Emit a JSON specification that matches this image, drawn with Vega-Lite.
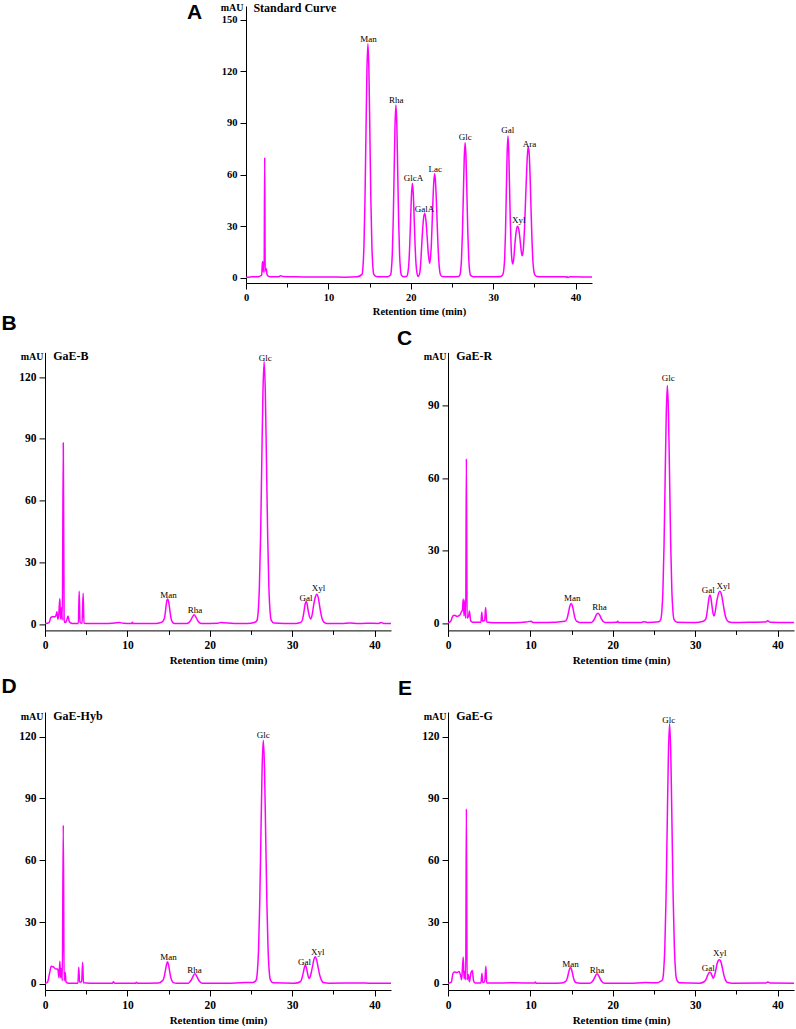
{
  "$schema": "https://vega.github.io/schema/vega-lite/v6.json",
  "background": "white",
  "padding": {"left": 1, "top": 1, "right": 0, "bottom": 0},
  "config": {
    "view": {"stroke": null},
    "axis": {
      "grid": false,
      "domainColor": "#000",
      "domainWidth": 1,
      "tickColor": "#000",
      "tickWidth": 1,
      "labelColor": "#000",
      "titleColor": "#000",
      "labelFont": "Liberation Serif",
      "labelFontWeight": "bold",
      "titleFont": "Liberation Serif",
      "titleFontWeight": "bold",
      "labelOverlap": false,
      "labelPadding": 3
    },
    "axisX": {"labelFlush": false, "titlePadding": 4},
    "title": {
      "font": "Liberation Sans",
      "fontSize": 21,
      "fontWeight": "bold",
      "anchor": "start",
      "frame": "group",
      "baseline": "alphabetic",
      "color": "#000"
    },
    "text": {"font": "Liberation Serif", "color": "#000"}
  },
  "datasets": {
    "curveA": [
      {"t": 0, "mAU": 0.3}, {"t": 0.5, "mAU": 0.5}, {"t": 1.0, "mAU": 0.6}, {"t": 1.5, "mAU": 0.7}, {"t": 1.9, "mAU": 1.5},
      {"t": 2.0, "mAU": 9.5}, {"t": 2.05, "mAU": 4}, {"t": 2.1, "mAU": 9}, {"t": 2.2, "mAU": 3}, {"t": 2.27, "mAU": 70},
      {"t": 2.33, "mAU": 4}, {"t": 2.45, "mAU": 5.5}, {"t": 2.55, "mAU": 2}, {"t": 2.7, "mAU": 1}, {"t": 3.0, "mAU": 0.6},
      {"t": 4.0, "mAU": 0.7}, {"t": 4.2, "mAU": 1.2}, {"t": 4.5, "mAU": 0.8}, {"t": 6, "mAU": 0.6}, {"t": 8, "mAU": 0.5},
      {"t": 10, "mAU": 0.5}, {"t": 12, "mAU": 0.4}, {"t": 13.5, "mAU": 0.6},
      {"t": 14.08, "mAU": 2}, {"t": 14.2, "mAU": 6.5}, {"t": 14.32, "mAU": 18.9}, {"t": 14.44, "mAU": 44.7}, {"t": 14.56, "mAU": 83.1},
      {"t": 14.68, "mAU": 120.5}, {"t": 14.8, "mAU": 136}, {"t": 14.92, "mAU": 120.5}, {"t": 15.04, "mAU": 83.1}, {"t": 15.16, "mAU": 44.7},
      {"t": 15.28, "mAU": 18.9}, {"t": 15.4, "mAU": 6.5}, {"t": 15.52, "mAU": 2}, {"t": 15.8, "mAU": 0.8}, {"t": 16.5, "mAU": 0.6},
      {"t": 17.2, "mAU": 0.7},
      {"t": 17.54, "mAU": 1.6}, {"t": 17.65, "mAU": 4.9}, {"t": 17.76, "mAU": 14}, {"t": 17.87, "mAU": 33}, {"t": 17.98, "mAU": 61},
      {"t": 18.09, "mAU": 88.7}, {"t": 18.2, "mAU": 100.5}, {"t": 18.31, "mAU": 88.7}, {"t": 18.42, "mAU": 61}, {"t": 18.53, "mAU": 33},
      {"t": 18.64, "mAU": 14}, {"t": 18.75, "mAU": 4.9}, {"t": 18.86, "mAU": 1.6}, {"t": 19.1, "mAU": 0.7}, {"t": 19.4, "mAU": 0.8},
      {"t": 19.54, "mAU": 1.1}, {"t": 19.65, "mAU": 2.9}, {"t": 19.76, "mAU": 7.9}, {"t": 19.87, "mAU": 18.4}, {"t": 19.98, "mAU": 33.9},
      {"t": 20.09, "mAU": 48.5}, {"t": 20.2, "mAU": 55}, {"t": 20.31, "mAU": 48.5}, {"t": 20.42, "mAU": 33.9}, {"t": 20.53, "mAU": 18.4},
      {"t": 20.64, "mAU": 7.9}, {"t": 20.75, "mAU": 2.9}, {"t": 20.9, "mAU": 0.8},
      {"t": 21.1, "mAU": 3}, {"t": 21.25, "mAU": 12}, {"t": 21.4, "mAU": 25}, {"t": 21.55, "mAU": 34.5}, {"t": 21.7, "mAU": 37.5},
      {"t": 21.85, "mAU": 33}, {"t": 22.0, "mAU": 23}, {"t": 22.15, "mAU": 13}, {"t": 22.3, "mAU": 8.5},
      {"t": 22.4, "mAU": 12}, {"t": 22.5, "mAU": 19.5}, {"t": 22.6, "mAU": 32.5}, {"t": 22.7, "mAU": 46}, {"t": 22.8, "mAU": 56},
      {"t": 22.9, "mAU": 60.5}, {"t": 23.0, "mAU": 56}, {"t": 23.1, "mAU": 46}, {"t": 23.2, "mAU": 32.5}, {"t": 23.3, "mAU": 19.5},
      {"t": 23.4, "mAU": 10}, {"t": 23.5, "mAU": 4.5}, {"t": 23.6, "mAU": 1.8}, {"t": 23.8, "mAU": 0.8}, {"t": 25.0, "mAU": 0.6},
      {"t": 25.8, "mAU": 0.8},
      {"t": 25.94, "mAU": 1.4}, {"t": 26.05, "mAU": 3.9}, {"t": 26.16, "mAU": 11}, {"t": 26.27, "mAU": 25.8}, {"t": 26.38, "mAU": 47.8},
      {"t": 26.49, "mAU": 69.3}, {"t": 26.6, "mAU": 78.5}, {"t": 26.71, "mAU": 69.3}, {"t": 26.82, "mAU": 47.8}, {"t": 26.93, "mAU": 25.8},
      {"t": 27.04, "mAU": 11}, {"t": 27.15, "mAU": 3.9}, {"t": 27.26, "mAU": 1.4}, {"t": 27.6, "mAU": 0.7}, {"t": 29, "mAU": 0.6},
      {"t": 30.5, "mAU": 0.6}, {"t": 31.0, "mAU": 0.9},
      {"t": 31.2, "mAU": 2.2}, {"t": 31.3, "mAU": 5}, {"t": 31.4, "mAU": 11.5}, {"t": 31.5, "mAU": 26.5}, {"t": 31.6, "mAU": 50},
      {"t": 31.7, "mAU": 72.5}, {"t": 31.8, "mAU": 82.5}, {"t": 31.9, "mAU": 73}, {"t": 32.0, "mAU": 51}, {"t": 32.1, "mAU": 30},
      {"t": 32.2, "mAU": 16}, {"t": 32.3, "mAU": 9.5}, {"t": 32.38, "mAU": 8}, {"t": 32.5, "mAU": 11}, {"t": 32.65, "mAU": 20},
      {"t": 32.8, "mAU": 27}, {"t": 32.95, "mAU": 30}, {"t": 33.1, "mAU": 28.5}, {"t": 33.25, "mAU": 23}, {"t": 33.4, "mAU": 16},
      {"t": 33.52, "mAU": 12.8}, {"t": 33.65, "mAU": 16}, {"t": 33.8, "mAU": 28}, {"t": 33.95, "mAU": 47}, {"t": 34.1, "mAU": 66},
      {"t": 34.2, "mAU": 74}, {"t": 34.28, "mAU": 76}, {"t": 34.38, "mAU": 72}, {"t": 34.5, "mAU": 57}, {"t": 34.6, "mAU": 40},
      {"t": 34.7, "mAU": 24}, {"t": 34.8, "mAU": 12}, {"t": 34.9, "mAU": 5.5}, {"t": 35.0, "mAU": 2.5}, {"t": 35.2, "mAU": 1},
      {"t": 35.6, "mAU": 0.7}, {"t": 37, "mAU": 0.6}, {"t": 38.8, "mAU": 0.6}, {"t": 38.9, "mAU": 0.2}, {"t": 39.0, "mAU": 0.7},
      {"t": 39.1, "mAU": 0.2}, {"t": 39.3, "mAU": 0.6}, {"t": 42, "mAU": 0.5}
    ],
    "curveB": [
      {"t": 0, "mAU": 0.3}, {"t": 0.5, "mAU": 0.8}, {"t": 0.7, "mAU": 3.2}, {"t": 0.9, "mAU": 3.6}, {"t": 1.2, "mAU": 3.6},
      {"t": 1.35, "mAU": 4.5}, {"t": 1.45, "mAU": 6}, {"t": 1.55, "mAU": 2.5}, {"t": 1.65, "mAU": 3.5}, {"t": 1.8, "mAU": 12.5},
      {"t": 1.9, "mAU": 2.5}, {"t": 2.0, "mAU": 8}, {"t": 2.1, "mAU": 2}, {"t": 2.22, "mAU": 88}, {"t": 2.32, "mAU": 2},
      {"t": 2.45, "mAU": 0.8}, {"t": 2.6, "mAU": 1.5}, {"t": 2.8, "mAU": 4}, {"t": 2.95, "mAU": 1.2}, {"t": 3.3, "mAU": 0.4},
      {"t": 4.05, "mAU": 0.4}, {"t": 4.15, "mAU": 16}, {"t": 4.25, "mAU": 0.8}, {"t": 4.5, "mAU": 0.5}, {"t": 4.63, "mAU": 15},
      {"t": 4.73, "mAU": 0.5}, {"t": 5.5, "mAU": 0.3}, {"t": 7, "mAU": 0.3}, {"t": 8.5, "mAU": 0.6}, {"t": 9, "mAU": 0.8},
      {"t": 9.5, "mAU": 0.5}, {"t": 10.5, "mAU": 0.4}, {"t": 10.6, "mAU": 1.0}, {"t": 10.7, "mAU": 0.3}, {"t": 12, "mAU": 0.3},
      {"t": 13.5, "mAU": 0.4}, {"t": 14.2, "mAU": 1}, {"t": 14.4, "mAU": 2}, {"t": 14.5, "mAU": 3}, {"t": 14.6, "mAU": 5.5},
      {"t": 14.7, "mAU": 9}, {"t": 14.8, "mAU": 11.5}, {"t": 14.9, "mAU": 12.2}, {"t": 15.0, "mAU": 11}, {"t": 15.1, "mAU": 8.5},
      {"t": 15.2, "mAU": 5.5}, {"t": 15.3, "mAU": 2.8}, {"t": 15.45, "mAU": 1.2}, {"t": 15.7, "mAU": 0.4}, {"t": 17.2, "mAU": 0.4},
      {"t": 17.5, "mAU": 0.9}, {"t": 17.7, "mAU": 2}, {"t": 17.9, "mAU": 3.6}, {"t": 18.1, "mAU": 4.6}, {"t": 18.3, "mAU": 3.6},
      {"t": 18.5, "mAU": 2}, {"t": 18.7, "mAU": 0.9}, {"t": 19, "mAU": 0.4}, {"t": 21, "mAU": 0.5}, {"t": 21.3, "mAU": 0.8},
      {"t": 23, "mAU": 0.4}, {"t": 24.5, "mAU": 0.4}, {"t": 25.5, "mAU": 1.0},
      {"t": 25.73, "mAU": 1.9}, {"t": 25.875, "mAU": 6}, {"t": 26.02, "mAU": 17.6}, {"t": 26.165, "mAU": 41.8}, {"t": 26.31, "mAU": 77.6},
      {"t": 26.455, "mAU": 112.5}, {"t": 26.6, "mAU": 127.5}, {"t": 26.745, "mAU": 112.5}, {"t": 26.89, "mAU": 77.6}, {"t": 27.035, "mAU": 41.8},
      {"t": 27.18, "mAU": 17.6}, {"t": 27.325, "mAU": 6}, {"t": 27.47, "mAU": 1.9}, {"t": 27.8, "mAU": 0.6}, {"t": 29, "mAU": 0.4},
      {"t": 30.5, "mAU": 0.4}, {"t": 31.1, "mAU": 1}, {"t": 31.3, "mAU": 3}, {"t": 31.45, "mAU": 6.5}, {"t": 31.58, "mAU": 9.8},
      {"t": 31.7, "mAU": 11}, {"t": 31.82, "mAU": 9.8}, {"t": 31.95, "mAU": 6.5}, {"t": 32.1, "mAU": 3.8}, {"t": 32.25, "mAU": 2.5},
      {"t": 32.45, "mAU": 5}, {"t": 32.6, "mAU": 9}, {"t": 32.8, "mAU": 13}, {"t": 33.0, "mAU": 14.6}, {"t": 33.2, "mAU": 12.3},
      {"t": 33.35, "mAU": 8.5}, {"t": 33.5, "mAU": 5}, {"t": 33.65, "mAU": 2.5}, {"t": 33.85, "mAU": 1}, {"t": 34.2, "mAU": 0.4},
      {"t": 36, "mAU": 0.3}, {"t": 37, "mAU": 0.6}, {"t": 38, "mAU": 0.3}, {"t": 39, "mAU": 0.5}, {"t": 40.5, "mAU": 0.4},
      {"t": 40.8, "mAU": 0.8}, {"t": 41.2, "mAU": 0.3}, {"t": 42, "mAU": 0.3}
    ],
    "curveC": [
      {"t": 0, "mAU": 0.2}, {"t": 0.3, "mAU": 0.6}, {"t": 0.6, "mAU": 3}, {"t": 0.8, "mAU": 3.3}, {"t": 1.1, "mAU": 2.8},
      {"t": 1.4, "mAU": 3.2}, {"t": 1.6, "mAU": 4.5}, {"t": 1.75, "mAU": 5.5}, {"t": 1.85, "mAU": 10}, {"t": 1.95, "mAU": 3},
      {"t": 2.05, "mAU": 9.5}, {"t": 2.15, "mAU": 2}, {"t": 2.23, "mAU": 68}, {"t": 2.32, "mAU": 2}, {"t": 2.5, "mAU": 3},
      {"t": 2.6, "mAU": 5}, {"t": 2.75, "mAU": 1}, {"t": 3.0, "mAU": 0.4}, {"t": 4.0, "mAU": 0.4}, {"t": 4.1, "mAU": 4.5},
      {"t": 4.2, "mAU": 0.8}, {"t": 4.45, "mAU": 1.2}, {"t": 4.57, "mAU": 6.5}, {"t": 4.7, "mAU": 0.5}, {"t": 5.5, "mAU": 0.2},
      {"t": 8, "mAU": 0.2}, {"t": 9.5, "mAU": 0.5}, {"t": 10.1, "mAU": 0.8}, {"t": 10.3, "mAU": 0.3}, {"t": 12, "mAU": 0.3},
      {"t": 14.2, "mAU": 0.8}, {"t": 14.4, "mAU": 1.5}, {"t": 14.5, "mAU": 2.5}, {"t": 14.65, "mAU": 4.8}, {"t": 14.8, "mAU": 7.2},
      {"t": 14.95, "mAU": 8.1}, {"t": 15.1, "mAU": 7.2}, {"t": 15.25, "mAU": 4.8}, {"t": 15.4, "mAU": 2.3}, {"t": 15.6, "mAU": 0.8},
      {"t": 16, "mAU": 0.3}, {"t": 17.4, "mAU": 0.3}, {"t": 17.6, "mAU": 0.8}, {"t": 17.8, "mAU": 1.9}, {"t": 18.0, "mAU": 3.4},
      {"t": 18.2, "mAU": 4.1}, {"t": 18.4, "mAU": 3.4}, {"t": 18.6, "mAU": 1.9}, {"t": 18.8, "mAU": 0.8}, {"t": 19.1, "mAU": 0.3},
      {"t": 20.5, "mAU": 0.4}, {"t": 20.6, "mAU": 0.8}, {"t": 20.7, "mAU": 0.3}, {"t": 23.5, "mAU": 0.3}, {"t": 23.8, "mAU": 0.6},
      {"t": 24.2, "mAU": 0.3}, {"t": 25.6, "mAU": 0.6},
      {"t": 25.82, "mAU": 1.5}, {"t": 25.955, "mAU": 4.8}, {"t": 26.09, "mAU": 13.7}, {"t": 26.225, "mAU": 32.3}, {"t": 26.36, "mAU": 59.9},
      {"t": 26.495, "mAU": 86.6}, {"t": 26.63, "mAU": 98.3}, {"t": 26.765, "mAU": 86.6}, {"t": 26.9, "mAU": 59.9}, {"t": 27.035, "mAU": 32.3},
      {"t": 27.17, "mAU": 13.7}, {"t": 27.305, "mAU": 4.8}, {"t": 27.44, "mAU": 1.5}, {"t": 27.8, "mAU": 0.4}, {"t": 30, "mAU": 0.3},
      {"t": 31.0, "mAU": 0.8}, {"t": 31.3, "mAU": 1.8}, {"t": 31.45, "mAU": 4.5}, {"t": 31.6, "mAU": 8.5}, {"t": 31.7, "mAU": 10.8},
      {"t": 31.8, "mAU": 11.6}, {"t": 31.9, "mAU": 10.8}, {"t": 32.0, "mAU": 8.3}, {"t": 32.15, "mAU": 4.5}, {"t": 32.3, "mAU": 3},
      {"t": 32.45, "mAU": 5}, {"t": 32.6, "mAU": 8.5}, {"t": 32.8, "mAU": 11.8}, {"t": 33.0, "mAU": 13.2}, {"t": 33.2, "mAU": 11.8},
      {"t": 33.4, "mAU": 8}, {"t": 33.6, "mAU": 4}, {"t": 33.8, "mAU": 1.6}, {"t": 34.05, "mAU": 0.6}, {"t": 34.5, "mAU": 0.3},
      {"t": 37, "mAU": 0.4}, {"t": 38.6, "mAU": 0.5}, {"t": 38.8, "mAU": 1}, {"t": 39.1, "mAU": 0.4}, {"t": 42, "mAU": 0.3}
    ],
    "curveD": [
      {"t": 0, "mAU": 0.2}, {"t": 0.3, "mAU": 0.8}, {"t": 0.55, "mAU": 5}, {"t": 0.75, "mAU": 8.5}, {"t": 1.0, "mAU": 8.3},
      {"t": 1.3, "mAU": 7.2}, {"t": 1.55, "mAU": 7.2}, {"t": 1.7, "mAU": 3}, {"t": 1.8, "mAU": 11}, {"t": 1.9, "mAU": 3},
      {"t": 2.0, "mAU": 7.5}, {"t": 2.1, "mAU": 1.5}, {"t": 2.22, "mAU": 77}, {"t": 2.32, "mAU": 1.5}, {"t": 2.45, "mAU": 5.5},
      {"t": 2.55, "mAU": 1}, {"t": 2.8, "mAU": 0.3}, {"t": 4.0, "mAU": 0.3}, {"t": 4.1, "mAU": 8}, {"t": 4.2, "mAU": 0.8},
      {"t": 4.45, "mAU": 1}, {"t": 4.57, "mAU": 10.5}, {"t": 4.67, "mAU": 0.5}, {"t": 5.5, "mAU": 0.3}, {"t": 8.2, "mAU": 0.3},
      {"t": 8.3, "mAU": 1}, {"t": 8.45, "mAU": 0.3}, {"t": 11, "mAU": 0.3}, {"t": 11.1, "mAU": 0.8}, {"t": 11.2, "mAU": 0.3},
      {"t": 13.8, "mAU": 0.4}, {"t": 14.2, "mAU": 1.3}, {"t": 14.35, "mAU": 2}, {"t": 14.5, "mAU": 4}, {"t": 14.63, "mAU": 6.8},
      {"t": 14.75, "mAU": 9.3}, {"t": 14.87, "mAU": 10.7}, {"t": 14.99, "mAU": 9.3}, {"t": 15.1, "mAU": 6.8}, {"t": 15.22, "mAU": 4},
      {"t": 15.37, "mAU": 1.8}, {"t": 15.57, "mAU": 0.6}, {"t": 16, "mAU": 0.3}, {"t": 17.4, "mAU": 0.3}, {"t": 17.6, "mAU": 1},
      {"t": 17.8, "mAU": 2.2}, {"t": 18.0, "mAU": 3.9}, {"t": 18.2, "mAU": 4.9}, {"t": 18.4, "mAU": 3.9}, {"t": 18.6, "mAU": 2.2},
      {"t": 18.8, "mAU": 1}, {"t": 19.1, "mAU": 0.3}, {"t": 22, "mAU": 0.3}, {"t": 24.3, "mAU": 0.6}, {"t": 25.2, "mAU": 0.6},
      {"t": 25.5, "mAU": 1.2},
      {"t": 25.63, "mAU": 1.8}, {"t": 25.775, "mAU": 5.7}, {"t": 25.92, "mAU": 16.4}, {"t": 26.065, "mAU": 38.9}, {"t": 26.21, "mAU": 72.1},
      {"t": 26.355, "mAU": 104.6}, {"t": 26.5, "mAU": 118.3}, {"t": 26.645, "mAU": 104.6}, {"t": 26.79, "mAU": 72.1}, {"t": 26.935, "mAU": 38.9},
      {"t": 27.08, "mAU": 16.4}, {"t": 27.225, "mAU": 5.7}, {"t": 27.37, "mAU": 1.8}, {"t": 27.7, "mAU": 0.5}, {"t": 30.3, "mAU": 0.3},
      {"t": 31.0, "mAU": 1}, {"t": 31.2, "mAU": 2.8}, {"t": 31.35, "mAU": 5.4}, {"t": 31.48, "mAU": 7.8}, {"t": 31.6, "mAU": 9.1},
      {"t": 31.72, "mAU": 8}, {"t": 31.87, "mAU": 5}, {"t": 32.05, "mAU": 2.6}, {"t": 32.2, "mAU": 3.5}, {"t": 32.35, "mAU": 6},
      {"t": 32.5, "mAU": 9}, {"t": 32.65, "mAU": 12}, {"t": 32.8, "mAU": 13.2}, {"t": 32.95, "mAU": 12}, {"t": 33.15, "mAU": 8},
      {"t": 33.35, "mAU": 4.2}, {"t": 33.55, "mAU": 1.8}, {"t": 33.8, "mAU": 0.6}, {"t": 34.5, "mAU": 0.3}, {"t": 38.5, "mAU": 0.4},
      {"t": 39.3, "mAU": 0.3}, {"t": 42, "mAU": 0.3}
    ],
    "curveE": [
      {"t": 0, "mAU": 0.2}, {"t": 0.4, "mAU": 0.8}, {"t": 0.6, "mAU": 5}, {"t": 0.8, "mAU": 5.8}, {"t": 1.1, "mAU": 5.5},
      {"t": 1.35, "mAU": 6}, {"t": 1.5, "mAU": 4.5}, {"t": 1.65, "mAU": 2}, {"t": 1.85, "mAU": 13}, {"t": 1.95, "mAU": 2.5},
      {"t": 2.05, "mAU": 6}, {"t": 2.15, "mAU": 2}, {"t": 2.23, "mAU": 85}, {"t": 2.32, "mAU": 2}, {"t": 2.45, "mAU": 4.5},
      {"t": 2.6, "mAU": 1}, {"t": 2.8, "mAU": 5.5}, {"t": 2.95, "mAU": 6.5}, {"t": 3.1, "mAU": 1.5}, {"t": 3.3, "mAU": 0.4},
      {"t": 4.0, "mAU": 0.4}, {"t": 4.12, "mAU": 5}, {"t": 4.22, "mAU": 0.6}, {"t": 4.45, "mAU": 1}, {"t": 4.6, "mAU": 8.5},
      {"t": 4.7, "mAU": 0.4}, {"t": 5.5, "mAU": 0.4}, {"t": 8, "mAU": 0.5}, {"t": 10.5, "mAU": 0.4}, {"t": 10.6, "mAU": 0.9},
      {"t": 10.7, "mAU": 0.3}, {"t": 12.5, "mAU": 0.3}, {"t": 13.8, "mAU": 0.4}, {"t": 14.3, "mAU": 1.2}, {"t": 14.5, "mAU": 3},
      {"t": 14.63, "mAU": 5.3}, {"t": 14.75, "mAU": 7.1}, {"t": 14.87, "mAU": 8.1}, {"t": 14.99, "mAU": 7.1}, {"t": 15.1, "mAU": 5.3},
      {"t": 15.22, "mAU": 3}, {"t": 15.37, "mAU": 1.3}, {"t": 15.57, "mAU": 0.5}, {"t": 16, "mAU": 0.3}, {"t": 17.2, "mAU": 0.3},
      {"t": 17.5, "mAU": 1}, {"t": 17.7, "mAU": 2.2}, {"t": 17.9, "mAU": 3.9}, {"t": 18.1, "mAU": 4.9}, {"t": 18.3, "mAU": 3.9},
      {"t": 18.5, "mAU": 2.2}, {"t": 18.7, "mAU": 1}, {"t": 19.0, "mAU": 0.3}, {"t": 22, "mAU": 0.3}, {"t": 24, "mAU": 0.6},
      {"t": 25.4, "mAU": 0.5}, {"t": 25.8, "mAU": 1.2},
      {"t": 26.03, "mAU": 1.9}, {"t": 26.175, "mAU": 6}, {"t": 26.32, "mAU": 17.5}, {"t": 26.465, "mAU": 41.4}, {"t": 26.61, "mAU": 76.9},
      {"t": 26.755, "mAU": 111.6}, {"t": 26.9, "mAU": 126.3}, {"t": 27.045, "mAU": 111.6}, {"t": 27.19, "mAU": 76.9}, {"t": 27.335, "mAU": 41.4},
      {"t": 27.48, "mAU": 17.5}, {"t": 27.625, "mAU": 6}, {"t": 27.77, "mAU": 1.9}, {"t": 28.1, "mAU": 0.5}, {"t": 30.5, "mAU": 0.3},
      {"t": 31.1, "mAU": 1}, {"t": 31.35, "mAU": 2.4}, {"t": 31.5, "mAU": 4}, {"t": 31.65, "mAU": 5.2}, {"t": 31.8, "mAU": 5.6},
      {"t": 31.92, "mAU": 5.2}, {"t": 32.05, "mAU": 4}, {"t": 32.2, "mAU": 2.7}, {"t": 32.35, "mAU": 4}, {"t": 32.5, "mAU": 6.5},
      {"t": 32.65, "mAU": 9.5}, {"t": 32.8, "mAU": 11.2}, {"t": 32.95, "mAU": 11.7}, {"t": 33.1, "mAU": 11}, {"t": 33.3, "mAU": 7.8},
      {"t": 33.5, "mAU": 4}, {"t": 33.7, "mAU": 1.7}, {"t": 33.95, "mAU": 0.6}, {"t": 34.5, "mAU": 0.3}, {"t": 38.6, "mAU": 0.4},
      {"t": 38.8, "mAU": 0.9}, {"t": 39.1, "mAU": 0.4}, {"t": 42, "mAU": 0.3}
    ],
    "labels": [
      {"panel": "A", "peak": "Man", "t": 14.87, "mAU": 137},
      {"panel": "A", "peak": "Rha", "t": 18.24, "mAU": 101.5},
      {"panel": "A", "peak": "GlcA", "t": 20.34, "mAU": 56},
      {"panel": "A", "peak": "GalA", "t": 21.68, "mAU": 38},
      {"panel": "A", "peak": "Lac", "t": 22.98, "mAU": 61.3},
      {"panel": "A", "peak": "Glc", "t": 26.6, "mAU": 80},
      {"panel": "A", "peak": "Gal", "t": 31.77, "mAU": 84},
      {"panel": "A", "peak": "Xyl", "t": 33.1, "mAU": 31.6},
      {"panel": "A", "peak": "Ara", "t": 34.4, "mAU": 76.2},
      {"panel": "B", "peak": "Man", "t": 14.98, "mAU": 12.6},
      {"panel": "B", "peak": "Rha", "t": 18.2, "mAU": 5.3},
      {"panel": "B", "peak": "Glc", "t": 26.73, "mAU": 127.6},
      {"panel": "B", "peak": "Gal", "t": 31.68, "mAU": 11.3},
      {"panel": "B", "peak": "Xyl", "t": 33.2, "mAU": 15.9},
      {"panel": "C", "peak": "Man", "t": 15.07, "mAU": 9.2},
      {"panel": "C", "peak": "Rha", "t": 18.4, "mAU": 5.5},
      {"panel": "C", "peak": "Glc", "t": 26.75, "mAU": 100},
      {"panel": "C", "peak": "Gal", "t": 31.6, "mAU": 12.4},
      {"panel": "C", "peak": "Xyl", "t": 33.4, "mAU": 14.1},
      {"panel": "D", "peak": "Man", "t": 14.98, "mAU": 11.7},
      {"panel": "D", "peak": "Rha", "t": 18.15, "mAU": 5.3},
      {"panel": "D", "peak": "Glc", "t": 26.5, "mAU": 119.2},
      {"panel": "D", "peak": "Gal", "t": 31.5, "mAU": 8.9},
      {"panel": "D", "peak": "Xyl", "t": 33.1, "mAU": 14.1},
      {"panel": "E", "peak": "Man", "t": 14.87, "mAU": 8.4},
      {"panel": "E", "peak": "Rha", "t": 18.1, "mAU": 5.2},
      {"panel": "E", "peak": "Glc", "t": 26.8, "mAU": 126.7},
      {"panel": "E", "peak": "Gal", "t": 31.6, "mAU": 6.0},
      {"panel": "E", "peak": "Xyl", "t": 33.0, "mAU": 13.3}
    ]
  },
  "vconcat": [
    {
      "vconcat": [
        {
          "hconcat": [
            {
              "width": 200,
              "height": 1,
              "data": {"values": []},
              "mark": "point"
            },
            {
              "width": 346,
              "height": 277,
              "title": {"text": "A", "dx": -59, "offset": -21.3},
              "layer": [
                {
                  "data": {"name": "curveA"},
                  "mark": {"type": "line", "color": "#ff00ff", "strokeWidth": 1.5, "interpolate": "monotone"},
                  "encoding": {
                    "x": {
                      "field": "t", "type": "quantitative",
                      "scale": {"domain": [0, 42], "nice": false, "zero": false},
                      "axis": {
                        "title": "Retention time (min)",
                        "values": [0, 5, 10, 15, 20, 25, 30, 35, 40],
                        "labelExpr": "datum.value % 10 === 0 ? datum.label : ''",
                        "tickSize": {"condition": {"test": "datum.value % 10 !== 0", "value": 4}, "value": 6},
                        "labelFontSize": 10.5,
                        "titleFontSize": 10.5
                      }
                    },
                    "y": {
                      "field": "mAU", "type": "quantitative",
                      "scale": {"domain": [-3, 158], "nice": false, "zero": false},
                      "axis": {
                        "title": "mAU",
                        "titleAngle": 0,
                        "titleAlign": "right",
                        "titleBaseline": "alphabetic",
                        "titleX": -3,
                        "titleY": 4.5,
                        "titleFontSize": 10,
                        "values": [0, 15, 30, 45, 60, 75, 90, 105, 120, 135, 150],
                        "labelExpr": "datum.value % 30 === 0 ? datum.label : ''",
                        "tickSize": {"condition": {"test": "datum.value % 30 !== 0", "value": 4}, "value": 6},
                        "labelFontSize": 10.5
                      }
                    }
                  }
                },
                {
                  "data": {"name": "labels"},
                  "transform": [{"filter": "datum.panel === 'A'"}],
                  "mark": {"type": "text", "fontSize": 9, "baseline": "alphabetic"},
                  "encoding": {
                    "x": {"field": "t", "type": "quantitative"},
                    "y": {"field": "mAU", "type": "quantitative"},
                    "text": {"field": "peak"}
                  }
                },
                {
                  "data": {"values": [{"name": "Standard Curve"}]},
                  "mark": {"type": "text", "fontSize": 12, "fontWeight": "bold", "align": "left", "baseline": "alphabetic", "dy": 5.5},
                  "encoding": {
                    "x": {"datum": 0.9},
                    "y": {"datum": 158},
                    "text": {"field": "name"}
                  }
                }
              ]
            }
          ],
          "bounds": "flush",
          "spacing": 1
        },
        {
          "hconcat": [
            {
              "width": 346,
              "height": 278,
              "title": {"text": "B", "dx": -43.5, "offset": 16},
              "layer": [
                {
                  "data": {"name": "curveB"},
                  "mark": {"type": "line", "color": "#ff00ff", "strokeWidth": 1.5, "interpolate": "monotone"},
                  "encoding": {
                    "x": {
                      "field": "t", "type": "quantitative",
                      "scale": {"domain": [0, 42], "nice": false, "zero": false},
                      "axis": {
                        "title": "Retention time (min)",
                        "values": [0, 5, 10, 15, 20, 25, 30, 35, 40],
                        "labelExpr": "datum.value % 10 === 0 ? datum.label : ''",
                        "tickSize": {"condition": {"test": "datum.value % 10 !== 0", "value": 4}, "value": 6},
                        "labelFontSize": 11.5,
                        "titleFontSize": 11
                      }
                    },
                    "y": {
                      "field": "mAU", "type": "quantitative",
                      "scale": {"domain": [-3, 132], "nice": false, "zero": false},
                      "axis": {
                        "title": "mAU",
                        "titleAngle": 0,
                        "titleAlign": "right",
                        "titleBaseline": "alphabetic",
                        "titleX": -2,
                        "titleY": 7,
                        "titleFontSize": 10,
                        "values": [0, 15, 30, 45, 60, 75, 90, 105, 120],
                        "labelExpr": "datum.value % 30 === 0 ? datum.label : ''",
                        "tickSize": {"condition": {"test": "datum.value % 30 !== 0", "value": 4}, "value": 6},
                        "labelFontSize": 11.5
                      }
                    }
                  }
                },
                {
                  "data": {"name": "labels"},
                  "transform": [{"filter": "datum.panel === 'B'"}],
                  "mark": {"type": "text", "fontSize": 9, "baseline": "alphabetic"},
                  "encoding": {
                    "x": {"field": "t", "type": "quantitative"},
                    "y": {"field": "mAU", "type": "quantitative"},
                    "text": {"field": "peak"}
                  }
                },
                {
                  "data": {"values": [{"name": "GaE-B"}]},
                  "mark": {"type": "text", "fontSize": 12, "fontWeight": "bold", "align": "left", "baseline": "alphabetic", "dy": 7.5},
                  "encoding": {
                    "x": {"datum": 1.0},
                    "y": {"datum": 132},
                    "text": {"field": "name"}
                  }
                }
              ]
            },
            {
              "width": 346,
              "height": 278,
              "title": {"text": "C", "dx": -51, "offset": 1},
              "layer": [
                {
                  "data": {"name": "curveC"},
                  "mark": {"type": "line", "color": "#ff00ff", "strokeWidth": 1.5, "interpolate": "monotone"},
                  "encoding": {
                    "x": {
                      "field": "t", "type": "quantitative",
                      "scale": {"domain": [0, 42], "nice": false, "zero": false},
                      "axis": {
                        "title": "Retention time (min)",
                        "values": [0, 5, 10, 15, 20, 25, 30, 35, 40],
                        "labelExpr": "datum.value % 10 === 0 ? datum.label : ''",
                        "tickSize": {"condition": {"test": "datum.value % 10 !== 0", "value": 4}, "value": 6},
                        "labelFontSize": 11.5,
                        "titleFontSize": 11
                      }
                    },
                    "y": {
                      "field": "mAU", "type": "quantitative",
                      "scale": {"domain": [-3, 112], "nice": false, "zero": false},
                      "axis": {
                        "title": "mAU",
                        "titleAngle": 0,
                        "titleAlign": "right",
                        "titleBaseline": "alphabetic",
                        "titleX": -2,
                        "titleY": 7,
                        "titleFontSize": 10,
                        "values": [0, 15, 30, 45, 60, 75, 90, 105],
                        "labelExpr": "datum.value % 30 === 0 ? datum.label : ''",
                        "tickSize": {"condition": {"test": "datum.value % 30 !== 0", "value": 4}, "value": 6},
                        "labelFontSize": 11.5
                      }
                    }
                  }
                },
                {
                  "data": {"name": "labels"},
                  "transform": [{"filter": "datum.panel === 'C'"}],
                  "mark": {"type": "text", "fontSize": 9, "baseline": "alphabetic"},
                  "encoding": {
                    "x": {"field": "t", "type": "quantitative"},
                    "y": {"field": "mAU", "type": "quantitative"},
                    "text": {"field": "peak"}
                  }
                },
                {
                  "data": {"values": [{"name": "GaE-R"}]},
                  "mark": {"type": "text", "fontSize": 12, "fontWeight": "bold", "align": "left", "baseline": "alphabetic", "dy": 7.5},
                  "encoding": {
                    "x": {"datum": 1.0},
                    "y": {"datum": 112},
                    "text": {"field": "name"}
                  }
                }
              ]
            }
          ],
          "bounds": "flush",
          "spacing": 57
        }
      ],
      "spacing": -4.6
    },
    {
      "hconcat": [
        {
          "width": 346,
          "height": 278,
          "title": {"text": "D", "dx": -43.5, "offset": 13},
          "layer": [
            {
              "data": {"name": "curveD"},
              "mark": {"type": "line", "color": "#ff00ff", "strokeWidth": 1.5, "interpolate": "monotone"},
              "encoding": {
                "x": {
                  "field": "t", "type": "quantitative",
                  "scale": {"domain": [0, 42], "nice": false, "zero": false},
                  "axis": {
                    "title": "Retention time (min)",
                    "values": [0, 5, 10, 15, 20, 25, 30, 35, 40],
                    "labelExpr": "datum.value % 10 === 0 ? datum.label : ''",
                    "tickSize": {"condition": {"test": "datum.value % 10 !== 0", "value": 4}, "value": 6},
                    "labelFontSize": 11.5,
                    "titleFontSize": 11
                  }
                },
                "y": {
                  "field": "mAU", "type": "quantitative",
                  "scale": {"domain": [-3, 132], "nice": false, "zero": false},
                  "axis": {
                    "title": "mAU",
                    "titleAngle": 0,
                    "titleAlign": "right",
                    "titleBaseline": "alphabetic",
                    "titleX": -2,
                    "titleY": 7,
                    "titleFontSize": 10,
                    "values": [0, 15, 30, 45, 60, 75, 90, 105, 120],
                    "labelExpr": "datum.value % 30 === 0 ? datum.label : ''",
                    "tickSize": {"condition": {"test": "datum.value % 30 !== 0", "value": 4}, "value": 6},
                    "labelFontSize": 11.5
                  }
                }
              }
            },
            {
              "data": {"name": "labels"},
              "transform": [{"filter": "datum.panel === 'D'"}],
              "mark": {"type": "text", "fontSize": 9, "baseline": "alphabetic"},
              "encoding": {
                "x": {"field": "t", "type": "quantitative"},
                "y": {"field": "mAU", "type": "quantitative"},
                "text": {"field": "peak"}
              }
            },
            {
              "data": {"values": [{"name": "GaE-Hyb"}]},
              "mark": {"type": "text", "fontSize": 12, "fontWeight": "bold", "align": "left", "baseline": "alphabetic", "dy": 7.5},
              "encoding": {
                "x": {"datum": 1.0},
                "y": {"datum": 132},
                "text": {"field": "name"}
              }
            }
          ]
        },
        {
          "width": 346,
          "height": 278,
          "title": {"text": "E", "dx": -50, "offset": 10.7},
          "layer": [
            {
              "data": {"name": "curveE"},
              "mark": {"type": "line", "color": "#ff00ff", "strokeWidth": 1.5, "interpolate": "monotone"},
              "encoding": {
                "x": {
                  "field": "t", "type": "quantitative",
                  "scale": {"domain": [0, 42], "nice": false, "zero": false},
                  "axis": {
                    "title": "Retention time (min)",
                    "values": [0, 5, 10, 15, 20, 25, 30, 35, 40],
                    "labelExpr": "datum.value % 10 === 0 ? datum.label : ''",
                    "tickSize": {"condition": {"test": "datum.value % 10 !== 0", "value": 4}, "value": 6},
                    "labelFontSize": 11.5,
                    "titleFontSize": 11
                  }
                },
                "y": {
                  "field": "mAU", "type": "quantitative",
                  "scale": {"domain": [-3, 132], "nice": false, "zero": false},
                  "axis": {
                    "title": "mAU",
                    "titleAngle": 0,
                    "titleAlign": "right",
                    "titleBaseline": "alphabetic",
                    "titleX": -2,
                    "titleY": 7,
                    "titleFontSize": 10,
                    "values": [0, 15, 30, 45, 60, 75, 90, 105, 120],
                    "labelExpr": "datum.value % 30 === 0 ? datum.label : ''",
                    "tickSize": {"condition": {"test": "datum.value % 30 !== 0", "value": 4}, "value": 6},
                    "labelFontSize": 11.5
                  }
                }
              }
            },
            {
              "data": {"name": "labels"},
              "transform": [{"filter": "datum.panel === 'E'"}],
              "mark": {"type": "text", "fontSize": 9, "baseline": "alphabetic"},
              "encoding": {
                "x": {"field": "t", "type": "quantitative"},
                "y": {"field": "mAU", "type": "quantitative"},
                "text": {"field": "peak"}
              }
            },
            {
              "data": {"values": [{"name": "GaE-G"}]},
              "mark": {"type": "text", "fontSize": 12, "fontWeight": "bold", "align": "left", "baseline": "alphabetic", "dy": 7.5},
              "encoding": {
                "x": {"datum": 1.0},
                "y": {"datum": 132},
                "text": {"field": "name"}
              }
            }
          ]
        }
      ],
      "bounds": "flush",
      "spacing": 57
    }
  ],
  "spacing": 9
}
